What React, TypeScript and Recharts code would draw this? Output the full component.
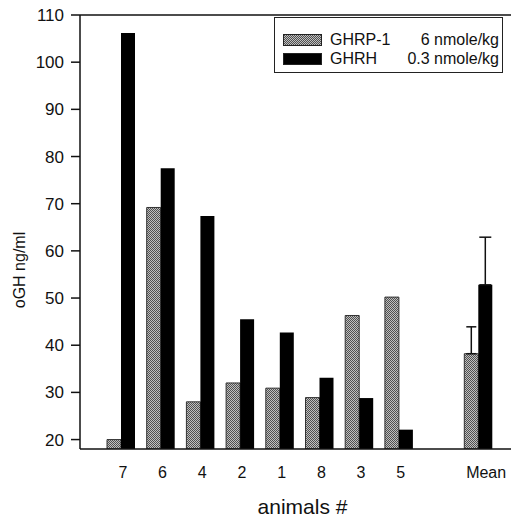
import React from 'react';
import { BarChart, Bar, XAxis, YAxis, ErrorBar, ReferenceLine, Legend, Label } from 'recharts';

const categories = ['7', '6', '4', '2', '1', '8', '3', '5', '', 'Mean'];
const ghrpValues = [20, 69.2, 28, 32, 30.9, 28.9, 46.3, 50.2, null, 38.2];
const ghrhValues = [106.2, 77.5, 67.4, 45.5, 42.7, 33.1, 28.8, 22.1, null, 52.8];
const ghrpErrors = [null, null, null, null, null, null, null, null, null, [0, 5.7]];
const ghrhErrors = [null, null, null, null, null, null, null, null, null, [0, 10.1]];
const yTicks = [20, 30, 40, 50, 60, 70, 80, 90, 100, 110];

const data = categories.map((c, i) => ({
  cat: c,
  ghrp: ghrpValues[i],
  ghrh: ghrhValues[i],
  ghrpErr: ghrpErrors[i],
  ghrhErr: ghrhErrors[i],
}));

const FONT = '"Liberation Sans", Arial, Helvetica, sans-serif';

const Swatch = ({ pattern }: { pattern: boolean }) => (
  <svg width={39} height={12} style={{ display: 'block' }}>
    <defs>
      <pattern id="dotsLegend" width="2" height="2" patternUnits="userSpaceOnUse">
        <rect width="2" height="2" fill="#c0c0c0" />
        <rect width="1" height="1" fill="#505050" />
        <rect x="1" y="1" width="1" height="1" fill="#505050" />
      </pattern>
    </defs>
    <rect x={0.5} y={0.5} width={38} height={11} fill={pattern ? 'url(#dotsLegend)' : '#000'} stroke="#222" strokeWidth={1} />
  </svg>
);

const LegendBox = () => (
  <div
    style={{
      width: 229,
      height: 56,
      boxSizing: 'border-box',
      border: '1.5px solid #222',
      background: '#fff',
      fontFamily: FONT,
      fontSize: 16,
      color: '#111',
      padding: '12px 0 0 8px',
    }}
  >
    {[
      { name: 'GHRP-1', dose: '6 nmole/kg', pattern: true },
      { name: 'GHRH', dose: '0.3 nmole/kg', pattern: false },
    ].map((r) => (
      <div key={r.name} style={{ display: 'flex', alignItems: 'center', height: 19 }}>
        <Swatch pattern={r.pattern} />
        <span style={{ marginLeft: 8 }}>{r.name}</span>
        <span style={{ marginLeft: 'auto', marginRight: 3 }}>{r.dose}</span>
      </div>
    ))}
  </div>
);

const YLabel = () => {
  const cx = 19;
  const cy = 270;
  return (
    <text
      x={cx}
      y={cy}
      transform={`rotate(-90 ${cx} ${cy})`}
      textAnchor="middle"
      dominantBaseline="central"
      fontFamily={FONT}
      fontSize={16}
      fill="#111"
    >
      oGH ng/ml
    </text>
  );
};

const XTick = (props: any) => {
  const { x, y, payload } = props;
  const shift = payload.value === 'Mean' ? 8 : 2;
  return (
    <text x={x + shift} y={y} dy="0.71em" textAnchor="middle" fontFamily={FONT} fontSize={16} fill="#111">
      {payload.value}
    </text>
  );
};

export default function App() {
  return (
    <div style={{ position: 'absolute', left: 0, top: 0, width: 511, height: 519, background: '#fff' }}>
      <BarChart
        width={511}
        height={519}
        data={data}
        margin={{ top: 15, right: 0, bottom: 0, left: 0 }}
        barGap={0}
        barSize={14}
      >
        <defs>
          <pattern id="dots" width="2" height="2" patternUnits="userSpaceOnUse">
            <rect width="2" height="2" fill="#c0c0c0" />
            <rect width="1" height="1" fill="#505050" />
            <rect x="1" y="1" width="1" height="1" fill="#505050" />
          </pattern>
        </defs>
        <XAxis
          dataKey="cat"
          interval={0}
          tickLine={false}
          axisLine={{ stroke: '#111', strokeWidth: 1.5 }}
          tick={<XTick />}
          tickMargin={12}
          padding={{ left: 21, right: 13 }}
          height={70}
        >
          <Label
            value="animals #"
            position="insideBottom"
            offset={5}
            dx={7}
            style={{ fontSize: 21, fill: '#111', fontFamily: FONT }}
          />
        </XAxis>
        <YAxis
          domain={[18, 110]}
          ticks={yTicks}
          allowDataOverflow
          width={80}
          tickSize={9}
          tickMargin={7}
          axisLine={{ stroke: '#111', strokeWidth: 1.5 }}
          tickLine={{ stroke: '#111', strokeWidth: 1.5 }}
          tick={{ fontSize: 17, fill: '#111', fontFamily: FONT }}
        >
          <Label content={<YLabel />} />
        </YAxis>
        <ReferenceLine y={110} stroke="#111" strokeWidth={1.5} />
        <Legend
          layout="horizontal"
          verticalAlign="middle"
          align="center"
          content={() => <LegendBox />}
          wrapperStyle={{ position: 'absolute', left: 274, top: 17, width: 229, height: 56 }}
        />
        <Bar dataKey="ghrp" name="GHRP-1 6 nmole/kg" fill="url(#dots)" stroke="#333" strokeWidth={1} isAnimationActive={false}>
          <ErrorBar dataKey="ghrpErr" width={5} stroke="#111" strokeWidth={1.5} direction="y" />
        </Bar>
        <Bar dataKey="ghrh" name="GHRH 0.3 nmole/kg" fill="#000" isAnimationActive={false}>
          <ErrorBar dataKey="ghrhErr" width={6} stroke="#111" strokeWidth={1.5} direction="y" />
        </Bar>
      </BarChart>
    </div>
  );
}
